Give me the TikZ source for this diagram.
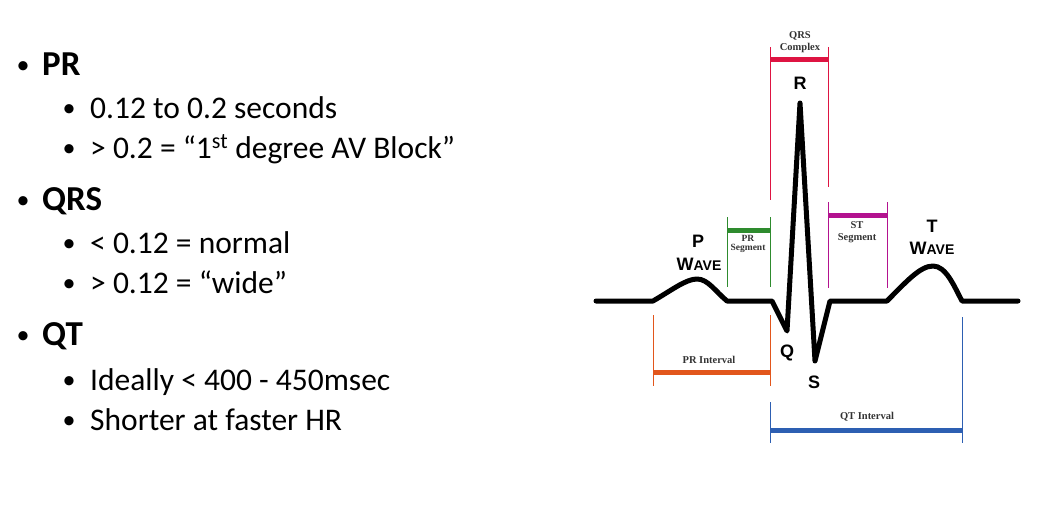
\documentclass[tikz,border=0pt]{standalone}
\usepackage{fontspec}
\setmainfont{Carlito}
\newfontfamily\ecgsans{Liberation Sans}
\newfontfamily\ecgserif{Liberation Serif}
\usetikzlibrary{positioning}

\definecolor{qrsred}{HTML}{DE1442}
\definecolor{prgreen}{HTML}{2E8B2E}
\definecolor{stpurple}{HTML}{B3128F}
\definecolor{prorange}{HTML}{E2561C}
\definecolor{qtblue}{HTML}{2D5FB2}

\tikzset{
  head/.style={anchor=base west,inner sep=0pt,font=\fontsize{35}{40}\selectfont\bfseries},
  item/.style={anchor=base west,inner sep=0pt,font=\fontsize{31.5}{36}\selectfont},
  dot/.style={anchor=base,inner sep=0pt,font=\fontsize{26}{34}\selectfont},
  ecg/.style={line width=5pt,line join=round,line cap=round},
  marker/.style={line width=0.7pt},
  bar/.style={line width=5pt},
  wavelbl/.style={anchor=base,inner sep=0pt,font=\ecgsans\bfseries\fontsize{18}{20}\selectfont},
  seglbl/.style={inner sep=0pt,align=center,text=black!80,font=\ecgserif\bfseries\fontsize{10.5}{12}\selectfont}
}
\newcommand{\wavetext}{{\fontsize{18}{20}\selectfont W}{\fontsize{14}{16}\selectfont AVE}}

\begin{document}
\begin{tikzpicture}[x=1pt,y=-1pt]
  \useasboundingbox (0,0) rectangle (1058,525);

  % bullet list
  \node[dot] (b1) at (23,73) {•};
  \node[head] (h1) at (42,75) {PR};
  \node[dot] (b11) at (69,116) {•};
  \node[item] (t11) at (90,118) {0.12 to 0.2 seconds};
  \node[dot] (b12) at (69,156) {•};
  \node[item] (t12) at (90,158) {> 0.2 = “1\textsuperscript{st} degree AV Block”};
  \node[dot] (b2) at (23,208) {•};
  \node[head] (h2) at (42,210) {QRS};
  \node[dot] (b21) at (69,251) {•};
  \node[item] (t21) at (90,253) {< 0.12 = normal};
  \node[dot] (b22) at (69,291) {•};
  \node[item] (t22) at (90,293) {> 0.12 = “wide”};
  \node[dot] (b3) at (23,343) {•};
  \node[head] (h3) at (42,345) {QT};
  \node[dot] (b31) at (69,388) {•};
  \node[item] (t31) at (90,390) {Ideally < 400 - 450msec};
  \node[dot] (b32) at (69,428) {•};
  \node[item] (t32) at (90,430) {Shorter at faster HR};

  % ecg trace
  \draw[ecg] (596,301) -- (653,301)
    .. controls (672,290) and (686,279) .. (697,279)
    .. controls (708,279) and (716,292) .. (727,301)
    -- (772,301) -- (787,331) -- (800,103) -- (815,361) -- (830,301) -- (887,301)
    .. controls (906,282) and (920,266) .. (933,266)
    .. controls (946,266) and (954,286) .. (962,301)
    -- (1018,301);

  % qrs complex
  \coordinate (qrsA) at (770,47);  \coordinate (qrsB) at (770,200);
  \coordinate (qrsC) at (828,47);  \coordinate (qrsD) at (828,187);
  \draw[marker,qrsred] (qrsA) -- (qrsB);
  \draw[marker,qrsred] (qrsC) -- (qrsD);
  \draw[bar,qrsred] (770,59) -- (828,59);
  \node[seglbl] (qrs) at (800,42) {QRS\\Complex};

  % pr segment
  \coordinate (prsA) at (727,217); \coordinate (prsB) at (727,287);
  \coordinate (prsC) at (770,217); \coordinate (prsD) at (770,287);
  \draw[marker,prgreen] (prsA) -- (prsB);
  \draw[marker,prgreen] (prsC) -- (prsD);
  \draw[bar,prgreen] (727,230) -- (770,230);
  \node[seglbl,font=\ecgserif\bfseries\fontsize{9.5}{9}\selectfont] (prs) at (748,244) {PR\\Segment};

  % st segment
  \coordinate (stA) at (828,202); \coordinate (stB) at (828,288);
  \coordinate (stC) at (887,202); \coordinate (stD) at (887,288);
  \draw[marker,stpurple] (stA) -- (stB);
  \draw[marker,stpurple] (stC) -- (stD);
  \draw[bar,stpurple] (828,215) -- (887,215);
  \node[seglbl] (sts) at (857,232) {ST\\Segment};

  % pr interval
  \coordinate (priA) at (653,315); \coordinate (priB) at (653,386);
  \coordinate (priC) at (770,315); \coordinate (priD) at (770,386);
  \draw[marker,prorange] (priA) -- (priB);
  \draw[marker,prorange] (priC) -- (priD);
  \draw[bar,prorange] (653,372) -- (770,372);
  \node[seglbl] (pri) at (709,360) {PR Interval};

  % qt interval
  \coordinate (qtiA) at (770,402); \coordinate (qtiB) at (770,443);
  \coordinate (qtiC) at (962,317); \coordinate (qtiD) at (962,443);
  \draw[marker,qtblue] (qtiA) -- (qtiB);
  \draw[marker,qtblue] (qtiC) -- (qtiD);
  \draw[bar,qtblue] (770,430) -- (962,430);
  \node[seglbl] (qti) at (867,417) {QT Interval};

  % wave letters
  \node[wavelbl] (R) at (800,89) {R};
  \node[wavelbl] (P) at (698,247) {P};
  \node[wavelbl] (Pw) at (699,270) {\wavetext};
  \node[wavelbl] (T) at (932,232) {T};
  \node[wavelbl] (Tw) at (932,254) {\wavetext};
  \node[wavelbl] (Q) at (787,357) {Q};
  \node[wavelbl] (S) at (814,388) {S};
\end{tikzpicture}
\end{document}
